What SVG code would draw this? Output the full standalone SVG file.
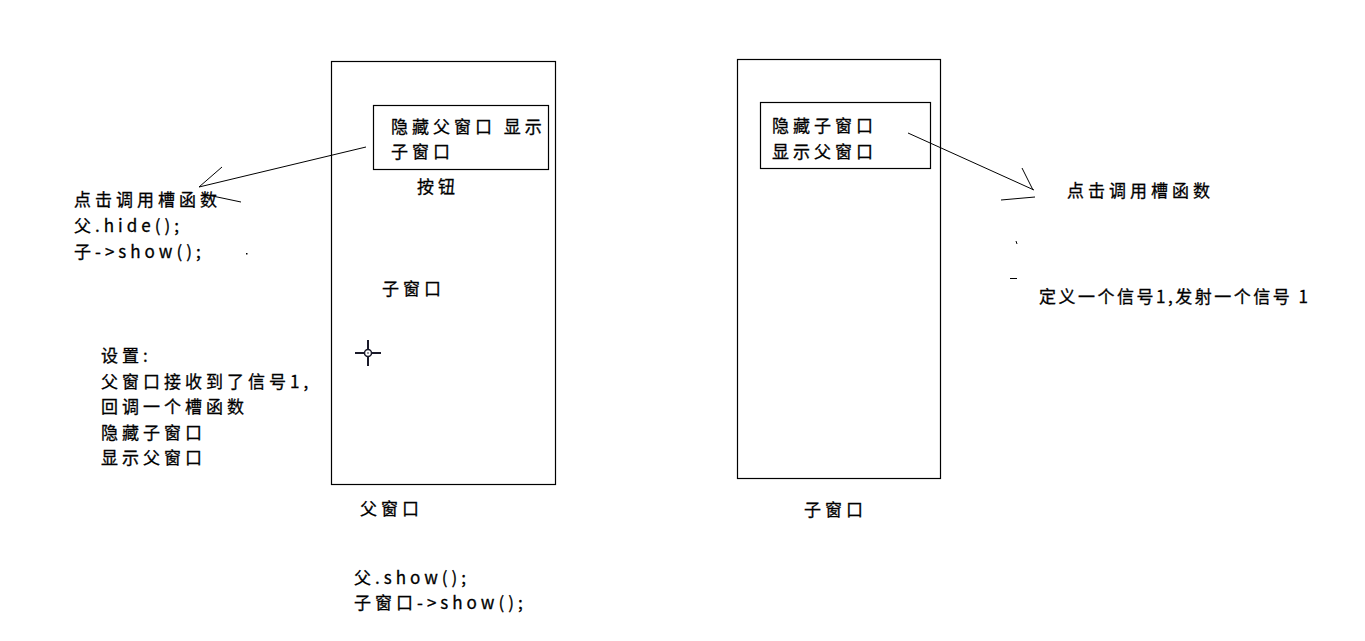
<svg xmlns="http://www.w3.org/2000/svg" width="1365" height="641" viewBox="0 0 1365 641">
<style>
.box{fill:none;stroke:#000;stroke-width:1.2}
.t{font-family:"Noto Sans CJK SC","Noto Sans",sans-serif;font-size:17px;letter-spacing:4px;fill:#000;stroke:#000;stroke-width:0.3}
.ln{stroke:#000;stroke-width:1;fill:none}
</style>
<rect width="1365" height="641" fill="#fff"/>
<g id="parent-window">
<rect class="box" x="331.5" y="61.5" width="224" height="423"/>
<text class="t" x="360" y="515">父窗口</text>
</g>
<g id="parent-button">
<rect class="box" x="373.5" y="105.5" width="175" height="64"/>
<text class="t" x="391" y="133">隐藏父窗口 显示</text>
<text class="t" x="391" y="158">子窗口</text>
<text class="t" x="417" y="193">按钮</text>
</g>
<g id="parent-child-label">
<text class="t" x="382" y="295">子窗口</text>
</g>
<g id="crosshair">
<path d="M355 353h9M372 353h9M368 340v9M368 357v9" stroke="#1a1a2a" stroke-width="2"/>
<circle cx="368" cy="353" r="3.5" fill="#fff" stroke="#1a1a2a" stroke-width="1.5"/>
<circle cx="368" cy="353" r="0.8" fill="#1a1a2a"/>
</g>
<g id="left-note">
<text class="t" x="74" y="206">点击调用槽函数</text>
<text class="t" x="74" y="232">父.hide();</text>
<text class="t" x="74" y="258">子-&gt;show();</text>
<rect x="246" y="253" width="1.5" height="1.5" fill="#000"/>
</g>
<g id="setup-note">
<text class="t" x="101" y="362">设置:</text>
<text class="t" x="101" y="388">父窗口接收到了信号1,</text>
<text class="t" x="101" y="413">回调一个槽函数</text>
<text class="t" x="101" y="439">隐藏子窗口</text>
<text class="t" x="101" y="464">显示父窗口</text>
</g>
<g id="bottom-note">
<text class="t" x="354" y="584">父.show();</text>
<text class="t" x="354" y="609">子窗口-&gt;show();</text>
</g>
<g id="child-window">
<rect class="box" x="737.5" y="59.5" width="203" height="419"/>
<text class="t" x="804" y="516">子窗口</text>
</g>
<g id="child-button">
<rect class="box" x="760.5" y="102.5" width="170" height="66"/>
<text class="t" x="772" y="132">隐藏子窗口</text>
<text class="t" x="772" y="158">显示父窗口</text>
</g>
<g id="right-note">
<text class="t" x="1067" y="197">点击调用槽函数</text>
<text class="t" x="1039" y="303" textLength="273" lengthAdjust="spacing">定义一个信号1,发射一个信号 1</text>
<path class="ln" d="M1016 241l1 3M1010 278.5h7"/>
</g>
<g id="connectors">
<path class="ln" d="M366 147L199 187M199 187L222 167M203 194L241 202"/>
<path class="ln" d="M908 133L1034 190M1022 168L1033 190M1001 200L1035 197"/>
</g>
</svg>
